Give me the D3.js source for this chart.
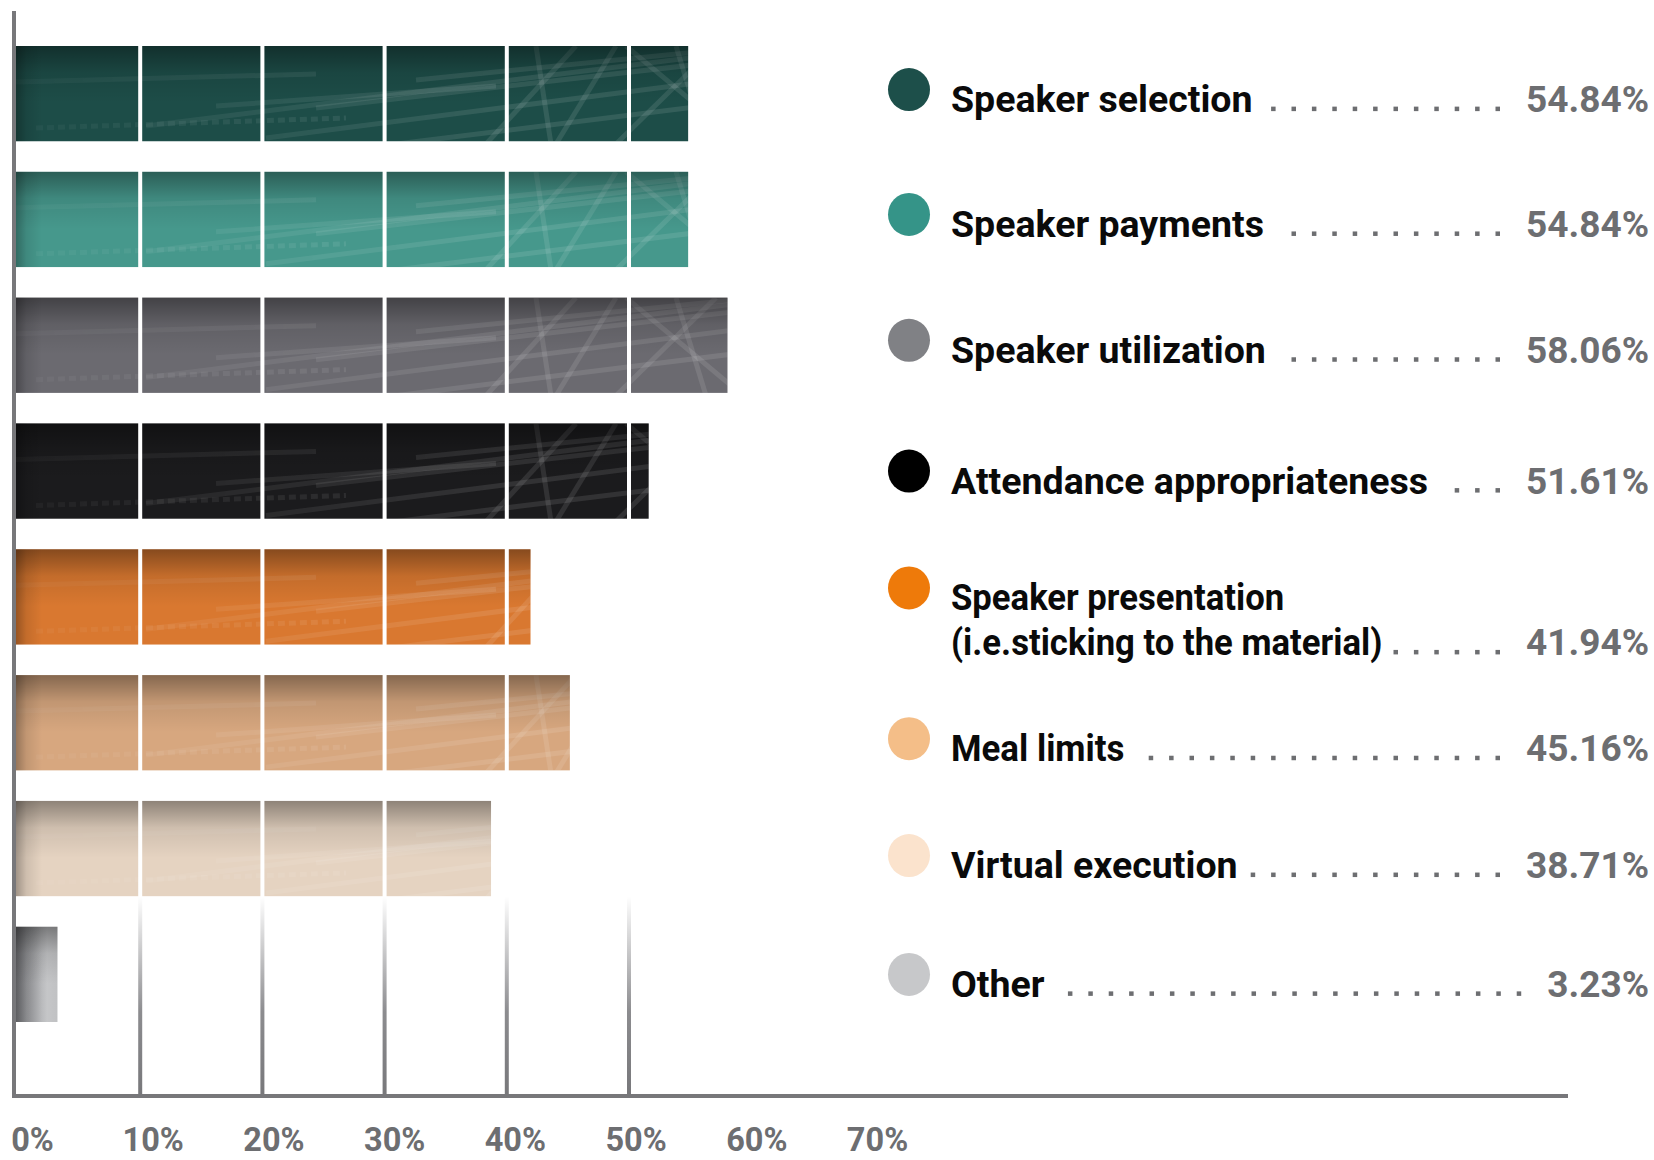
<!DOCTYPE html>
<html>
<head>
<meta charset="utf-8">
<title>Bar chart</title>
<script src="https://cdn.jsdelivr.net/npm/d3@7"></script>
<style>
  body { margin: 0; background: #fff; }
  svg { display: block; }
  text { font-family: Roboto, "Open Sans", sans-serif; font-weight: 700; }
</style>
</head>
<body>
<script>
// data
var categories = ["Speaker selection", "Speaker payments", "Speaker utilization", "Attendance appropriateness",
  "Speaker presentation\n(i.e.sticking to the material)", "Meal limits", "Virtual execution", "Other"];
var values = [54.84, 54.84, 58.06, 51.61, 41.94, 45.16, 38.71, 3.23];
var tickValues = [0, 10, 20, 30, 40, 50, 60, 70];
var gridValues = [10, 20, 30, 40, 50];

// styles
var barColors = ["#1d4d48", "#46988c", "#6b6a70", "#1b1b1d", "#d97830", "#d7a77f", "#e5d3c1", "#a5a6a9"];
var dotColors = ["#1d4f4a", "#359488", "#808185", "#000000", "#ee7a0a", "#f4be88", "#fbe3cd", "#c7c8ca"];
var legendNudge = [-4, -5, -5, 0, -9, 16, 7, 0];
var labelSqueeze = [1, 1, 1, 1, 0.925, 0.93, 1, 1];

var width = 1654, height = 1160;
var gray = "#6d6e71";

var svg = d3.select("body").append("svg").attr("width", width).attr("height", height);
var defs = svg.append("defs");

var x = d3.scaleLinear().domain([0, 70]).range([18, 873.4]);
var xLabel = d3.scaleLinear().domain([0, 70]).range([32, 877]);
var y = d3.scaleBand().domain(categories).range([46, 1022]).paddingInner(0.243).paddingOuter(0);
var bw = y.bandwidth();
var axisY = 1096;
var barX0 = 16; // bars butt against the axis line

// gradients
var gv = defs.append("linearGradient").attr("id", "shadeV").attr("x1", 0).attr("x2", 0).attr("y1", 0).attr("y2", 1);
gv.append("stop").attr("offset", 0).attr("stop-color", "#000").attr("stop-opacity", 0.38);
gv.append("stop").attr("offset", 0.28).attr("stop-color", "#000").attr("stop-opacity", 0.1);
gv.append("stop").attr("offset", 0.6).attr("stop-color", "#000").attr("stop-opacity", 0);

var gl = defs.append("linearGradient").attr("id", "shadeL").attr("gradientUnits", "userSpaceOnUse")
  .attr("x1", 0).attr("x2", 26).attr("y1", 0).attr("y2", 0);
gl.append("stop").attr("offset", 0).attr("stop-color", "#000").attr("stop-opacity", 0.3);
gl.append("stop").attr("offset", 0.4).attr("stop-color", "#000").attr("stop-opacity", 0.1);
gl.append("stop").attr("offset", 1).attr("stop-color", "#000").attr("stop-opacity", 0);

var go = defs.append("linearGradient").attr("id", "otherGrad").attr("x1", 0).attr("x2", 1).attr("y1", 0).attr("y2", 0);
go.append("stop").attr("offset", 0).attr("stop-color", "#85868a");
go.append("stop").attr("offset", 0.3).attr("stop-color", "#9c9da0");
go.append("stop").attr("offset", 0.75).attr("stop-color", "#c5c6c8");
go.append("stop").attr("offset", 1).attr("stop-color", "#c0c1c3");

var gg = defs.append("linearGradient").attr("id", "gridGrad").attr("gradientUnits", "userSpaceOnUse")
  .attr("x1", 0).attr("x2", 0).attr("y1", 46).attr("y2", axisY);
gg.append("stop").attr("offset", 0).attr("stop-color", "#fff");
gg.append("stop").attr("offset", 0.81).attr("stop-color", "#fff");
gg.append("stop").attr("offset", 0.92).attr("stop-color", "#8c8c8f");
gg.append("stop").attr("offset", 1).attr("stop-color", "#77777a");

// streak texture
var fg = defs.append("linearGradient").attr("id", "fadeGrad").attr("gradientUnits", "userSpaceOnUse")
  .attr("x1", 0).attr("x2", 480).attr("y1", 0).attr("y2", 0);
fg.append("stop").attr("offset", 0).attr("stop-color", "#fff").attr("stop-opacity", 0.35);
fg.append("stop").attr("offset", 1).attr("stop-color", "#fff").attr("stop-opacity", 1);
defs.append("mask").attr("id", "fade").attr("maskUnits", "userSpaceOnUse")
  .attr("x", 0).attr("y", 0).attr("width", 760).attr("height", 100)
  .append("rect").attr("width", 760).attr("height", 100).attr("fill", "url(#fadeGrad)");

var streaks = [
  "M0,36 L300,28", "M20,82 L330,72", "M130,80 L720,6", "M250,92 L720,32", "M300,62 L720,14",
  "M380,98 L720,56", "M400,34 L720,2", "M470,98 L560,0", "M540,98 L600,0", "M600,98 L700,0",
  "M610,0 L720,92", "M520,0 L535,98", "M660,0 L690,98", "M200,60 L480,40"
];
defs.append("g").attr("id", "streaks").attr("fill", "none").attr("stroke", "#fff")
  .attr("stroke-opacity", 0.1).attr("stroke-width", 5)
  .selectAll("path").data(streaks).enter().append("path").attr("d", function (d) { return d; })
  .attr("stroke-dasharray", function (d, i) { return i === 1 ? "7 4" : null; });

// bars
var bars = svg.append("g").selectAll("g.bar")
  .data(categories)
  .enter()
  .append("g")
  .attr("class", "bar")
  .attr("transform", function (d) { return "translate(" + barX0 + "," + y(d) + ")"; });

bars.each(function (d, i) {
  var g = d3.select(this);
  var w = x(values[i]) - barX0;
  g.append("rect").attr("width", w).attr("height", bw)
    .attr("fill", i === 7 ? "url(#otherGrad)" : barColors[i]);
  if (i !== 7) {
    defs.append("clipPath").attr("id", "clip" + i)
      .append("rect").attr("width", w).attr("height", bw);
    g.append("g").attr("clip-path", "url(#clip" + i + ")")
      .append("use").attr("href", "#streaks").attr("mask", "url(#fade)");
  }
  g.append("rect").attr("width", w).attr("height", bw).attr("fill", "url(#shadeV)");
  g.append("rect").attr("width", Math.min(w, 26)).attr("height", bw).attr("fill", "url(#shadeL)");
});

// grid lines (white through the bars, grey towards the axis)
svg.append("g").selectAll("line")
  .data(gridValues)
  .enter()
  .append("line")
  .attr("x1", function (d) { return x(d); })
  .attr("x2", function (d) { return x(d); })
  .attr("y1", 46)
  .attr("y2", axisY)
  .attr("stroke", "url(#gridGrad)")
  .attr("stroke-width", 4);

// axes lines
svg.append("line").attr("x1", 14).attr("x2", 14).attr("y1", 11).attr("y2", axisY + 2)
  .attr("stroke", "#77777a").attr("stroke-width", 4);
svg.append("line").attr("x1", 12).attr("x2", 1568).attr("y1", axisY).attr("y2", axisY)
  .attr("stroke", "#77777a").attr("stroke-width", 4);

// tick labels
var ax = svg.append("g").attr("transform", "translate(0," + axisY + ")")
  .call(d3.axisBottom(xLabel).tickValues(tickValues).tickSize(0).tickPadding(0)
    .tickFormat(function (d) { return d + "%"; }));
ax.select(".domain").remove();
ax.selectAll("text")
  .attr("y", 55).attr("dy", 0)
  .attr("fill", gray)
  .style("font-size", "32.5px")
  .style("font-family", "Roboto, 'Open Sans', sans-serif")
  .style("font-weight", 700);

// legend
var legend = svg.append("g").selectAll("g.item")
  .data(categories)
  .enter()
  .append("g")
  .attr("class", "item");

legend.each(function (d, i) {
  var g = d3.select(this);
  var cy = y(d) + bw / 2 + legendNudge[i];
  var base = cy + 22.5;
  var lines = d.split("\n");
  var s = labelSqueeze[i];
  g.append("ellipse").attr("cx", 909).attr("cy", cy).attr("rx", 21).attr("ry", 21.5)
    .attr("fill", dotColors[i]);
  var t = g.append("text").attr("x", 951).attr("y", base)
    .attr("transform", "translate(951,0) scale(" + s + ",1) translate(-951,0)")
    .attr("fill", "#0a0a0a").style("font-size", "37.5px");
  var spans = t.selectAll("tspan").data(lines).enter().append("tspan")
    .attr("x", 951)
    .attr("dy", function (l, j) { return j === 0 ? 0 : 45; })
    .text(function (l) { return l; });
  var lastBase = base + (lines.length - 1) * 45;
  var lastW = spans.nodes()[lines.length - 1].getComputedTextLength() * s;
  var v = g.append("text").attr("x", 1649).attr("y", lastBase)
    .attr("text-anchor", "end").attr("fill", gray).style("font-size", "37px")
    .text(d3.format(".2f")(values[i]) + "%");
  var vW = v.node().getComputedTextLength();
  // dotted leader
  var right = 1649 - vW - 26;
  var xs = [];
  for (var k = 0; ; k++) {
    var xl = right - k * 20.4 - 4.5;
    if (xl < 951 + lastW + 8) break;
    xs.push(xl);
  }
  g.append("g").selectAll("rect").data(xs).enter().append("rect")
    .attr("x", function (p) { return p; })
    .attr("y", lastBase - 5.5)
    .attr("width", 4.5).attr("height", 4.5)
    .attr("fill", gray);
});
</script>
</body>
</html>
